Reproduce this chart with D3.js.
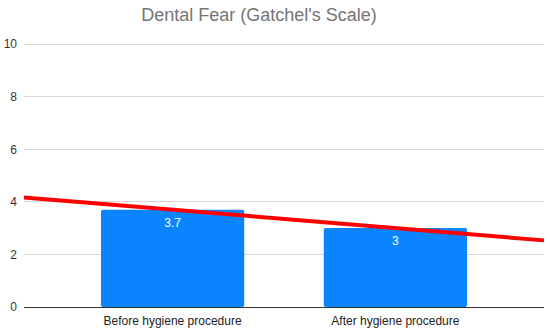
<!DOCTYPE html>
<html>
<head>
<meta charset="utf-8">
<script src="https://cdn.jsdelivr.net/npm/d3@7"></script>
<style>
  body { margin: 0; background: #fff; }
  #container { width: 550px; height: 333px; }
  text { font-family: Arial, "Liberation Sans", sans-serif; }
</style>
</head>
<body>
<div id="container"></div>
<script>
const categories = ["Before hygiene procedure", "After hygiene procedure"];
const values = [3.7, 3];
const y_ticks = [0, 2, 4, 6, 8, 10];

const width = 550, height = 333;
const margin = {top: 44, left: 24, bottom: 26, right: 6};

let svg = d3.select("#container")
	.append("svg")
	.attr("width", width)
	.attr("height", height)

// x is continuous so the trendline can run edge to edge
const xScale = d3.scaleLinear()
	.domain([1 - 0.667, categories.length + 0.667])
	.range([margin.left, width - margin.right])

const yScale = d3.scaleLinear()
	.domain([0, 10])
	.range([height - margin.bottom, margin.top])

const step = xScale(2) - xScale(1)
const bar_w = step * 0.643

// gridlines
svg.append("g")
	.attr("class", "grid")
	.selectAll("line")
	.data(y_ticks)
	.enter()
	.append("line")
	.attr("x1", margin.left)
	.attr("x2", width - margin.right)
	.attr("y1", (d) => yScale(d))
	.attr("y2", (d) => yScale(d))
	.attr("stroke", (d) => d == 0 ? "#333" : "#d9d9d9")
	.attr("stroke-width", 1)
	.attr("shape-rendering", "crispEdges")

// y labels
const yAxis = d3.axisLeft(yScale)
	.tickValues(y_ticks)
	.tickSize(0)
	.tickPadding(0)

svg.append("g")
	.attr("transform", "translate(" + (margin.left - 7) + ",0)")
	.call(yAxis)
	.call(g => g.select(".domain").remove())
	.selectAll("text")
	.attr("font-family", "Arial, 'Liberation Sans', sans-serif")
	.attr("font-size", 12)
	.attr("fill", "#333")

// bars
let bars = svg.append("g")
	.attr("class", "bars")
	.selectAll("rect")
	.data(values)
	.enter()
	.append("rect")
	.attr("x", (d, i) => xScale(i + 1) - bar_w / 2)
	.attr("y", (d) => yScale(d))
	.attr("width", bar_w)
	.attr("height", (d) => yScale(0) - yScale(d))
	.attr("rx", 2)
	.attr("fill", "#0a84ff")

svg.append("g")
	.attr("class", "bar_labels")
	.selectAll("text")
	.data(values)
	.enter()
	.append("text")
	.attr("x", (d, i) => xScale(i + 1))
	.attr("y", (d) => yScale(d) + 17)
	.attr("text-anchor", "middle")
	.attr("font-size", 12)
	.attr("fill", "#fff")
	.text((d) => d)

// x labels
svg.append("g")
	.attr("class", "x_labels")
	.selectAll("text")
	.data(categories)
	.enter()
	.append("text")
	.attr("x", (d, i) => xScale(i + 1))
	.attr("y", yScale(0) + 18)
	.attr("text-anchor", "middle")
	.attr("font-size", 12)
	.attr("fill", "#222")
	.text((d) => d)

// linear trendline (least squares over the bars)
const xs = values.map((d, i) => i + 1)
const mx = d3.mean(xs), my = d3.mean(values)
const slope = d3.sum(xs, (x, i) => (x - mx) * (values[i] - my)) / d3.sum(xs, (x) => (x - mx) * (x - mx))
const icpt = my - slope * mx
const dom = xScale.domain()

svg.append("path")
	.datum(dom)
	.attr("d", d3.line().x((d) => xScale(d)).y((d) => yScale(icpt + slope * d)))
	.attr("stroke", "#ff0000")
	.attr("stroke-width", 4)
	.attr("fill", "none")

// title
svg.append("text")
	.attr("x", 259)
	.attr("y", 21)
	.attr("text-anchor", "middle")
	.attr("font-size", 18)
	.attr("fill", "#757575")
	.text("Dental Fear (Gatchel's Scale)")
</script>
</body>
</html>
